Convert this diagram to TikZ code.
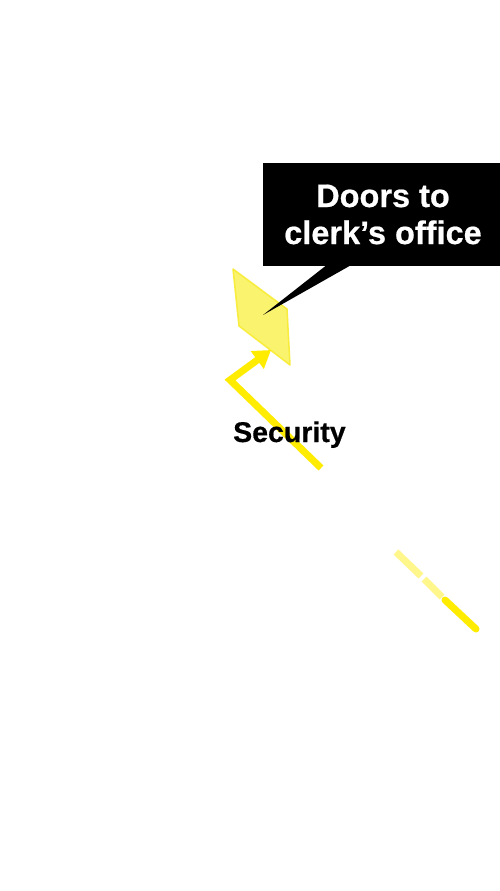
\documentclass[tikz,border=0pt]{standalone}
\usepackage{fontspec}
\setmainfont{Liberation Sans}
\newfontfamily\condfont[FakeBold=0.6]{Liberation Sans}
\usetikzlibrary{arrows.meta}
\definecolor{ybright}{RGB}{255,236,0}
\definecolor{ypale}{RGB}{255,246,140}
\definecolor{ydoor}{RGB}{250,242,95}
\definecolor{ydooredge}{RGB}{248,236,50}
\tikzset{
  px/.style={x=1pt,y=-1pt},
  route/.style={draw=ybright,line width=7pt},
  faded/.style={draw=ypale,line width=7pt},
  labeltext/.style={font=\condfont\bfseries\fontsize{28.5}{31}\selectfont,text=black,inner sep=0pt},
  callouttext/.style={font=\condfont\bfseries\fontsize{32.5}{37}\selectfont,text=white,align=center,inner sep=0pt}
}
\begin{document}
\begin{tikzpicture}[px]
\useasboundingbox (0,0) rectangle (500,891);
\fill[white] (0,0) rectangle (500,891);
% door
\filldraw[fill=ydoor,draw=ydooredge,line width=1.5pt,line join=round,opacity=0.9]
  (233,269) -- (287,309) -- (290,365) -- (239,326) -- cycle;
% route arrow
\coordinate (rA) at (321,468);
\coordinate (rB) at (230,380);
\coordinate (rC) at (271,350);
\draw[route,-{Triangle[length=17pt,width=21pt]}] (rA) -- (rB) -- (rC);
% security label
\node[labeltext,anchor=base west] (sec) at (233,442) {Security};
% bottom-right route
\coordinate (p1) at (396,552);
\coordinate (p2) at (421,576);
\coordinate (p3) at (424,579);
\coordinate (p4) at (442,597);
\coordinate (p5) at (445,600);
\coordinate (p6) at (476,629);
\draw[faded] (p1) -- (p2);
\draw[faded] (p3) -- (p4);
\draw[route,line cap=round] (p5) -- (p6);
% callout
\coordinate (tip) at (263,315);
\coordinate (b1) at (328,264);
\coordinate (b2) at (353,264);
\fill[black] (b1) -- (tip) -- (b2) -- cycle;
\node[fill=black,minimum width=237pt,minimum height=103pt,inner sep=0pt,anchor=north west] (box) at (263,163) {};
\node[callouttext,anchor=base] (l1) at (383,207) {Doors to};
\node[callouttext,anchor=base] (l2) at (383,244) {clerk’s office};
\end{tikzpicture}
\end{document}
